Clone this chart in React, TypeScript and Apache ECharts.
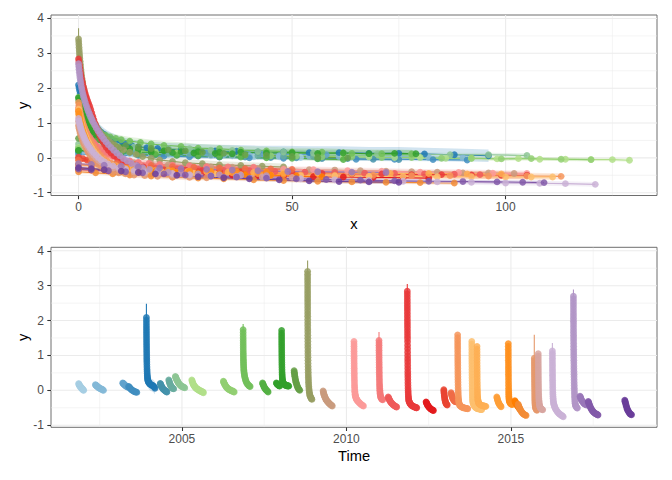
import { useEffect, useRef } from "react";
import * as echarts from "echarts";

type Pt = [number, number];

// ---- axis ticks ----
const xTicks = [0, 50, 100];
const xMinorTicks = [25, 75, 125];
const yTicks = [-1, 0, 1, 2, 3, 4];
const yMinorTicks = [-0.5, 0.5, 1.5, 2.5, 3.5];
const timeTicks = [2005, 2010, 2015];
const timeMinorTicks = [2002.5, 2007.5, 2012.5, 2017.5];

// ---- events: start (decimal year), fitted value at day 0 (needle), band half width ----
const eventStart = [
  2001.86, 2002.37, 2003.2, 2003.38, 2003.92, 2004.34, 2004.6, 2004.8, 2005.3, 2006.26,
  2006.86, 2007.45, 2007.87, 2008.03, 2008.41, 2008.82, 2009.29, 2010.23, 2010.99, 2011.27,
  2011.85, 2012.42, 2012.96, 2013.18, 2013.38, 2013.81, 2013.97, 2014.57, 2014.92, 2015.12,
  2015.22, 2015.71, 2015.83, 2016.26, 2016.9, 2017.1, 2017.35, 2018.46,
];
const fitTop: (number | null)[] = [
  null, null, null, null, 2.48, null, null, null, null, null,
  1.9, null, null, null, null, 3.72, null, null, 1.67, null,
  3.05, null, null, null, null, null, null, null, null, null,
  null, 1.59, null, 1.36, 2.89, null, null, null,
];
const bandHalf = [
  0.05, 0.05, 0.05, 0.05, 0.18, 0.05, 0.05, 0.06, 0.05, 0.05,
  0.12, 0.05, 0.05, 0.1, 0.06, 0.1, 0.06, 0.09, 0.09, 0.05,
  0.1, 0.05, 0.05, 0.05, 0.09, 0.08, 0.08, 0.05, 0.08, 0.05,
  0.05, 0.08, 0.08, 0.07, 0.1, 0.05, 0.05, 0.05,
];
const palette = [
  "#A6CEE3", "#84B9D7", "#62A3CC", "#418EC0", "#1F78B4", "#4492AA", "#68AC9F", "#8DC594", "#B2DF8A", "#92CF72",
  "#72BF5B", "#53B043", "#33A02C", "#33A02C", "#659F47", "#979D62", "#C99B7E", "#FB9A99", "#F57A7A", "#EF5A5A",
  "#E93A3B", "#E31A1C", "#E94431", "#F06C46", "#F6955A", "#FDBF6F", "#FEAF53", "#FE9F38", "#FF8F1C", "#FF7F00",
  "#F28C36", "#E5986B", "#D7A5A0", "#CAB2D6", "#B295C7", "#9A78B8", "#825AA9", "#6A3D9A",
];

// ---- observations per event: [days since start, y] ----
const ev00: Pt[] = [[0,0.19],[3,0.18],[6,0.15],[9,0.15],[13,0.12],[17,0.12],[21,0.09],[26,0.09],[31,0.06],[36,0.06],[41,0.03],[47,0.03],[52,0.01],[56,0.0]];
const ev01: Pt[] = [[0,0.16],[4,0.15],[8,0.14],[12,0.13],[17,0.12],[22,0.11],[28,0.09],[34,0.09],[40,0.07],[47,0.06],[54,0.05],[61,0.04],[68,0.03],[75,0.03],[82,0.01],[90,0.0]];
const ev02: Pt[] = [[0,0.21],[4,0.2],[8,0.19],[13,0.18],[18,0.16],[24,0.15],[30,0.14],[36,0.12],[43,0.11],[50,0.1],[58,0.09]];
const ev03: Pt[] = [[0,0.11],[4,0.1],[9,0.08],[14,0.07],[20,0.05],[26,0.03],[33,0.02],[40,0.0],[48,-0.01],[56,-0.02],[65,-0.04],[74,-0.04],[83,-0.05],[91,-0.06]];
const ev04: Pt[] = [[0,2.09],[0.12,2.01],[0.25,1.93],[0.4,1.85],[0.55,1.78],[0.72,1.71],[0.9,1.64],[1.1,1.57],[1.32,1.5],[1.56,1.43],[1.82,1.36],[2.1,1.29],[2.4,1.22],[2.72,1.15],[3.06,1.08],[3.42,1.01],[3.8,0.94],[4.2,0.88],[4.7,0.81],[5.3,0.74],[6,0.67],[6.8,0.6],[7.7,0.54],[8.7,0.48],[9.8,0.43],[11,0.39],[12.5,0.35],[14,0.32],[16,0.29],[18.5,0.27],[21,0.25],[24,0.23],[28,0.22],[32,0.2],[37,0.19],[42,0.17],[48,0.17],[54,0.15],[61,0.15],[68,0.13],[75,0.13],[81,0.11],[88,0.09],[96,0.06]];
const ev05: Pt[] = [[0,0.2],[3,0.18],[6,0.16],[10,0.13],[14,0.12],[18,0.09],[23,0.08],[28,0.05],[33,0.04],[39,0.02],[45,0.01],[51,0.0],[57,-0.02],[63,-0.02],[69,-0.04],[75,-0.05]];
const ev06: Pt[] = [[0,0.3],[3,0.27],[6,0.24],[9,0.22],[13,0.18],[17,0.16],[21,0.13],[26,0.12],[31,0.09],[36,0.08],[42,0.06],[48,0.05],[55,0.04]];
const ev07: Pt[] = [[0,0.4],[3,0.38],[6,0.36],[9,0.34],[13,0.31],[17,0.3],[21,0.27],[26,0.26],[31,0.22],[36,0.21],[42,0.18],[48,0.17],[55,0.14],[62,0.14],[70,0.11],[78,0.11],[87,0.09],[96,0.09],[105,0.07]];
const ev08: Pt[] = [[0,0.3],[3,0.27],[6,0.25],[10,0.21],[14,0.19],[18,0.16],[23,0.15],[28,0.12],[33,0.11],[38,0.08],[44,0.08],[50,0.05],[56,0.05],[62,0.03],[68,0.03],[74,0.01],[80,0.01],[86,-0.01],[92,-0.01],[98,-0.03],[103,-0.02],[108,-0.04],[114,-0.04],[120,-0.05],[125,-0.05],[129,-0.07]];
const ev09: Pt[] = [[0,0.26],[3,0.24],[6,0.22],[10,0.2],[14,0.17],[18,0.16],[23,0.13],[28,0.12],[33,0.09],[39,0.08],[45,0.06],[51,0.05],[57,0.03],[64,0.03],[71,0.01],[78,0.01],[85,-0.01],[92,-0.01],[99,-0.03],[106,-0.02],[113,-0.04],[120,-0.05]];
const ev10: Pt[] = [[0,1.74],[0.1,1.66],[0.2,1.58],[0.35,1.5],[0.5,1.43],[0.7,1.36],[0.9,1.29],[1.1,1.22],[1.4,1.15],[1.7,1.08],[2,1.02],[2.4,0.96],[2.8,0.9],[3.3,0.85],[3.9,0.8],[4.6,0.75],[5.4,0.7],[6.3,0.65],[7.4,0.6],[8.7,0.56],[10,0.52],[12,0.48],[14.5,0.44],[17,0.4],[20,0.36],[24,0.33],[28,0.28],[33,0.26],[38,0.22],[44,0.2],[50,0.17],[57,0.16],[64,0.13],[71,0.12],[78,0.11]];
const ev11: Pt[] = [[0,0.21],[3,0.19],[6,0.17],[10,0.15],[14,0.11],[18,0.1],[23,0.07],[28,0.06],[33,0.03],[38,0.02],[44,0.0],[50,-0.01],[56,-0.03],[62,-0.05]];
const ev12: Pt[] = [[0,0.21],[4,0.2],[8,0.18],[12,0.17],[17,0.16],[22,0.15],[27,0.14],[32,0.13],[36,0.12]];
const ev13: Pt[] = [[0,1.72],[0.1,1.64],[0.2,1.57],[0.3,1.5],[0.45,1.43],[0.6,1.36],[0.8,1.29],[1,1.22],[1.2,1.15],[1.45,1.08],[1.7,1.01],[2,0.94],[2.35,0.87],[2.7,0.8],[3.1,0.73],[3.6,0.66],[4.2,0.59],[4.9,0.52],[5.7,0.46],[6.6,0.41],[7.6,0.36],[8.8,0.32],[10,0.29],[12,0.26],[14,0.24],[17,0.21],[20,0.2],[24,0.18],[28,0.18],[33,0.16],[38,0.16],[44,0.14],[50,0.15],[56,0.13],[62,0.14],[68,0.12],[74,0.13],[79,0.12]];
const ev14: Pt[] = [[0,0.56],[2,0.52],[4,0.48],[6,0.44],[8,0.4],[11,0.35],[14,0.31],[17,0.27],[21,0.23],[25,0.2],[29,0.16],[34,0.13],[39,0.09],[44,0.07],[50,0.04],[56,0.02],[63,0.0]];
const ev15: Pt[] = [[0,3.41],[0.04,3.33],[0.08,3.25],[0.12,3.17],[0.16,3.09],[0.2,3.01],[0.25,2.93],[0.3,2.85],[0.36,2.77],[0.42,2.69],[0.48,2.61],[0.55,2.53],[0.62,2.45],[0.7,2.37],[0.8,2.28],[0.9,2.2],[1,2.12],[1.15,2.03],[1.3,1.94],[1.45,1.85],[1.6,1.76],[1.8,1.67],[2,1.58],[2.2,1.49],[2.45,1.4],[2.7,1.31],[3,1.22],[3.3,1.13],[3.6,1.04],[4,0.95],[4.4,0.86],[4.9,0.77],[5.4,0.68],[6,0.6],[6.7,0.52],[7.5,0.44],[8.4,0.37],[9.4,0.3],[10.5,0.23],[12,0.16],[13.5,0.1],[15,0.04],[17,-0.01],[19,-0.06],[22,-0.1],[25,-0.14],[29,-0.17],[33,-0.2],[38,-0.22],[43,-0.24],[48,-0.26]];
const ev16: Pt[] = [[0,-0.02],[3,-0.05],[6,-0.08],[9,-0.11],[13,-0.14],[17,-0.17],[21,-0.2],[26,-0.22],[31,-0.26],[36,-0.27],[42,-0.3],[48,-0.31],[54,-0.34],[60,-0.35],[66,-0.37],[72,-0.38],[78,-0.4],[84,-0.41],[90,-0.43],[96,-0.43],[102,-0.45]];
const ev17: Pt[] = [[0,1.4],[0.1,1.33],[0.2,1.26],[0.35,1.19],[0.5,1.12],[0.7,1.05],[0.9,0.98],[1.1,0.91],[1.35,0.84],[1.6,0.77],[1.9,0.7],[2.2,0.63],[2.6,0.56],[3,0.49],[3.5,0.42],[4,0.35],[4.6,0.28],[5.3,0.21],[6.1,0.14],[7,0.08],[8,0.02],[9.2,-0.03],[10.5,-0.07],[12,-0.11],[14,-0.14],[16.5,-0.17],[19,-0.2],[22,-0.22],[26,-0.25],[30,-0.26],[35,-0.29],[41,-0.3],[48,-0.33],[55,-0.34],[63,-0.37],[71,-0.38],[80,-0.41],[89,-0.42],[97,-0.44],[105,-0.45]];
const ev18: Pt[] = [[0,1.43],[0.1,1.36],[0.2,1.29],[0.35,1.22],[0.5,1.15],[0.7,1.08],[0.9,1.01],[1.1,0.94],[1.35,0.87],[1.6,0.8],[1.9,0.73],[2.2,0.66],[2.6,0.59],[3,0.52],[3.5,0.45],[4,0.38],[4.6,0.31],[5.3,0.24],[6.1,0.17],[7,0.11],[8,0.05],[9.2,0],[10.5,-0.05],[12,-0.09],[14,-0.13],[16.5,-0.16],[19,-0.19],[22,-0.21],[26,-0.23],[30,-0.25],[35,-0.26],[41,-0.27]];
const ev19: Pt[] = [[0,-0.19],[3,-0.21],[6,-0.24],[10,-0.25],[14,-0.28],[18,-0.29],[23,-0.32],[28,-0.33],[34,-0.36],[40,-0.37],[46,-0.39],[53,-0.41],[60,-0.42],[67,-0.44],[74,-0.45],[81,-0.46],[88,-0.47],[94,-0.48]];
const ev20: Pt[] = [[0,2.84],[0.08,2.76],[0.16,2.68],[0.25,2.6],[0.35,2.52],[0.45,2.44],[0.56,2.36],[0.68,2.28],[0.82,2.2],[0.97,2.12],[1.13,2.04],[1.3,1.96],[1.48,1.88],[1.68,1.8],[1.9,1.72],[2.12,1.64],[2.36,1.56],[2.6,1.48],[2.85,1.39],[3.1,1.29],[3.35,1.19],[3.6,1.09],[3.85,0.99],[4.1,0.9],[4.4,0.81],[4.7,0.72],[5,0.63],[5.35,0.54],[5.7,0.46],[6.1,0.38],[6.5,0.3],[7,0.22],[7.6,0.14],[8.3,0.06],[9.1,-0.01],[10,-0.07],[11,-0.13],[12.2,-0.18],[13.6,-0.22],[15.2,-0.26],[17,-0.29],[19,-0.31],[22,-0.33],[25,-0.35],[29,-0.37],[33,-0.39],[38,-0.4],[44,-0.43],[50,-0.43],[57,-0.45],[64,-0.46],[71,-0.46],[78,-0.48],[85,-0.48],[92,-0.49],[99,-0.5],[105,-0.5]];
const ev21: Pt[] = [[0,-0.33],[3,-0.35],[7,-0.37],[11,-0.4],[15,-0.41],[20,-0.44],[25,-0.45],[30,-0.48],[36,-0.49],[42,-0.51],[48,-0.52],[55,-0.54],[62,-0.55],[69,-0.56],[76,-0.57],[82,-0.58]];
const ev22: Pt[] = [[0,0.02],[1,-0.02],[2,-0.06],[3.5,-0.1],[5,-0.14],[7,-0.18],[9,-0.22],[11.5,-0.26],[14,-0.29],[17,-0.32],[20,-0.35],[24,-0.37],[28,-0.39],[33,-0.41],[38,-0.42]];
const ev23: Pt[] = [[0,-0.07],[3,-0.1],[6,-0.13],[9,-0.16],[13,-0.19],[17,-0.22],[22,-0.25],[27,-0.27],[33,-0.29],[39,-0.31],[45,-0.32],[50,-0.33]];
const ev24: Pt[] = [[0,1.59],[0.1,1.51],[0.2,1.43],[0.32,1.35],[0.45,1.27],[0.6,1.19],[0.76,1.11],[0.94,1.03],[1.14,0.95],[1.36,0.87],[1.6,0.79],[1.86,0.71],[2.15,0.63],[2.47,0.55],[2.82,0.47],[3.2,0.39],[3.62,0.31],[4.08,0.23],[4.6,0.15],[5.2,0.07],[5.9,-0.01],[6.7,-0.08],[7.6,-0.15],[8.7,-0.21],[10,-0.26],[11.5,-0.3],[13.5,-0.34],[16,-0.37],[19,-0.4],[22.5,-0.42],[26,-0.44],[31,-0.45],[37,-0.46],[44,-0.48],[52,-0.48],[60,-0.5],[69,-0.5],[78,-0.51],[87,-0.51],[96,-0.52],[105,-0.52],[113,-0.53]];
const ev25: Pt[] = [[0,1.4],[0.1,1.32],[0.2,1.24],[0.33,1.16],[0.47,1.08],[0.63,1],[0.81,0.92],[1.01,0.84],[1.23,0.76],[1.47,0.68],[1.74,0.6],[2.03,0.52],[2.36,0.44],[2.72,0.36],[3.12,0.28],[3.56,0.2],[4.05,0.12],[4.6,0.04],[5.2,-0.03],[5.9,-0.1],[6.7,-0.16],[7.7,-0.21],[8.9,-0.26],[10.3,-0.3],[12,-0.33],[14,-0.36],[16.5,-0.38],[19.5,-0.4],[23,-0.42],[27,-0.44],[32,-0.46],[38,-0.48],[45,-0.5],[52,-0.51],[60,-0.52],[68,-0.53],[76,-0.53],[84,-0.54],[92,-0.54],[100,-0.55],[106,-0.55],[111,-0.55]];
const ev26: Pt[] = [[0,1.26],[0.1,1.18],[0.21,1.1],[0.34,1.02],[0.49,0.94],[0.66,0.86],[0.85,0.78],[1.07,0.7],[1.31,0.62],[1.58,0.54],[1.88,0.46],[2.21,0.38],[2.58,0.3],[2.99,0.22],[3.45,0.14],[3.96,0.06],[4.53,-0.01],[5.17,-0.07],[5.9,-0.13],[6.8,-0.18],[7.9,-0.22],[9.2,-0.26],[10.8,-0.29],[12.7,-0.32],[15,-0.34],[18,-0.36],[21.5,-0.38],[25.5,-0.39],[30,-0.4],[35,-0.41],[41,-0.42],[48,-0.43],[56,-0.44],[64,-0.44],[73,-0.45],[82,-0.45],[91,-0.46],[99,-0.46]];
const ev27: Pt[] = [[0,-0.19],[3,-0.22],[6,-0.25],[9,-0.28],[13,-0.31],[17,-0.34],[21,-0.36],[26,-0.39],[31,-0.41],[36,-0.43],[42,-0.45],[48,-0.47]];
const ev28: Pt[] = [[0,1.34],[0.1,1.26],[0.2,1.18],[0.32,1.1],[0.46,1.02],[0.61,0.94],[0.78,0.86],[0.97,0.78],[1.18,0.7],[1.41,0.62],[1.67,0.54],[1.95,0.46],[2.26,0.38],[2.6,0.3],[2.98,0.22],[3.4,0.14],[3.86,0.06],[4.37,-0.01],[4.94,-0.07],[5.6,-0.12],[6.4,-0.17],[7.3,-0.21],[8.4,-0.24],[9.7,-0.27],[11.3,-0.29],[13.2,-0.31],[15.5,-0.33],[18.5,-0.35],[22,-0.37],[26,-0.38],[31,-0.39],[37,-0.4],[44,-0.41]];
const ev29: Pt[] = [[0,-0.3],[3,-0.32],[6,-0.34],[10,-0.36],[14,-0.38],[18,-0.4],[23,-0.42],[28,-0.44],[33,-0.46],[39,-0.48],[45,-0.5],[51,-0.52],[57,-0.54]];
const ev30: Pt[] = [[0,-0.4],[4,-0.43],[8,-0.46],[12,-0.49],[17,-0.52],[22,-0.55],[28,-0.58],[34,-0.6],[41,-0.63],[48,-0.65],[56,-0.67],[64,-0.69],[72,-0.7],[80,-0.71],[88,-0.72]];
const ev31: Pt[] = [[0,0.92],[0.12,0.85],[0.25,0.78],[0.4,0.71],[0.56,0.64],[0.74,0.57],[0.94,0.5],[1.16,0.43],[1.4,0.36],[1.67,0.29],[1.97,0.22],[2.3,0.15],[2.67,0.08],[3.08,0.01],[3.54,-0.06],[4.06,-0.13],[4.65,-0.19],[5.33,-0.25],[6.1,-0.3],[7,-0.35],[8.1,-0.39],[9.4,-0.43],[11,-0.46],[13,-0.49],[15.5,-0.51],[18.5,-0.53],[22,-0.55],[26,-0.56],[30,-0.57]];
const ev32: Pt[] = [[0,1.05],[0.12,0.98],[0.25,0.91],[0.4,0.84],[0.56,0.77],[0.74,0.7],[0.94,0.63],[1.16,0.56],[1.4,0.49],[1.67,0.42],[1.97,0.35],[2.3,0.28],[2.67,0.21],[3.08,0.14],[3.54,0.07],[4.06,0],[4.65,-0.07],[5.33,-0.13],[6.1,-0.19],[7,-0.24],[8.1,-0.29],[9.4,-0.33],[11,-0.37],[13,-0.41],[15.5,-0.44],[18.5,-0.47],[22,-0.49],[26,-0.51],[31,-0.53],[37,-0.54],[43,-0.55],[50,-0.56]];
const ev33: Pt[] = [[0,1.13],[0.12,1.06],[0.25,0.99],[0.4,0.92],[0.56,0.85],[0.74,0.78],[0.94,0.71],[1.16,0.64],[1.4,0.57],[1.67,0.5],[1.97,0.43],[2.3,0.36],[2.67,0.29],[3.08,0.22],[3.54,0.15],[4.06,0.08],[4.65,0.01],[5.33,-0.06],[6.1,-0.12],[7,-0.18],[8.1,-0.23],[9.4,-0.28],[11,-0.32],[13,-0.36],[15.5,-0.39],[18.5,-0.42],[22,-0.45],[26,-0.48],[31,-0.51],[37,-0.54],[44,-0.57],[52,-0.6],[60,-0.63],[68,-0.65],[76,-0.67],[84,-0.69],[92,-0.7],[100,-0.72],[108,-0.73],[114,-0.74],[121,-0.76]];
const ev34: Pt[] = [[0,2.7],[0.06,2.62],[0.12,2.54],[0.19,2.46],[0.26,2.38],[0.34,2.3],[0.43,2.22],[0.53,2.14],[0.64,2.06],[0.76,1.98],[0.9,1.9],[1.05,1.82],[1.22,1.74],[1.4,1.66],[1.6,1.58],[1.82,1.5],[2.05,1.42],[2.3,1.34],[2.56,1.26],[2.84,1.18],[3.14,1.1],[3.46,1.02],[3.8,0.94],[4.16,0.86],[4.55,0.78],[4.97,0.7],[5.42,0.62],[5.9,0.54],[6.42,0.46],[6.98,0.38],[7.6,0.3],[8.25,0.22],[8.95,0.14],[9.7,0.06],[10.5,-0.02],[11.4,-0.09],[12.4,-0.16],[13.6,-0.22],[15,-0.28],[16.6,-0.33],[18.5,-0.37],[21,-0.41],[24,-0.44],[28,-0.46],[33,-0.48],[38,-0.5],[44,-0.51]];
const ev35: Pt[] = [[0,-0.17],[3,-0.19],[6,-0.21],[10,-0.24],[14,-0.26],[19,-0.29],[24,-0.31],[30,-0.33],[36,-0.35],[42,-0.37],[49,-0.39],[56,-0.4],[64,-0.41],[72,-0.42]];
const ev36: Pt[] = [[0,-0.32],[3,-0.34],[7,-0.37],[11,-0.4],[15,-0.43],[20,-0.46],[25,-0.49],[31,-0.52],[37,-0.55],[44,-0.58],[51,-0.6],[58,-0.62],[66,-0.64],[74,-0.66],[82,-0.67],[90,-0.68],[98,-0.69],[104,-0.7],[109,-0.71]];
const ev37: Pt[] = [[0,-0.28],[3,-0.31],[6,-0.34],[10,-0.38],[14,-0.42],[18,-0.46],[23,-0.5],[28,-0.54],[34,-0.57],[40,-0.6],[47,-0.63],[54,-0.66],[61,-0.68],[68,-0.69],[75,-0.7]];

const events: Pt[][] = [
  ev00, ev01, ev02, ev03, ev04, ev05, ev06, ev07, ev08, ev09,
  ev10, ev11, ev12, ev13, ev14, ev15, ev16, ev17, ev18, ev19,
  ev20, ev21, ev22, ev23, ev24, ev25, ev26, ev27, ev28, ev29,
  ev30, ev31, ev32, ev33, ev34, ev35, ev36, ev37,
];

const FONT = '"Liberation Sans", Arial, Helvetica, sans-serif';

const limits = [
  { xmin: -6.45, xmax: 135.45, ymin: -1.08, ymax: 4.1 },
  { xmin: 2001.02, xmax: 2019.44, ymin: -1.06, ymax: 4.1 },
];

const panelX = (panel: number, i: number, d: number) =>
  panel === 0 ? d : eventStart[i] + d / 365.25;

const fitPoints = (i: number): Pt[] => {
  const top = fitTop[i];
  return top != null ? [[0, top] as Pt, ...events[i]] : events[i];
};

function gridLineSeries(panel: number, xMaj: number[], xMin: number[]) {
  const lim = limits[panel];
  const data = [
    ...xMin.map((v) => [v, 0, 0]),
    ...yMinorTicks.map((v) => [v, 1, 0]),
    ...xMaj.map((v) => [v, 0, 1]),
    ...yTicks.map((v) => [v, 1, 1]),
  ];
  return {
    type: "custom",
    xAxisIndex: panel,
    yAxisIndex: panel,
    z: 1,
    silent: true,
    clip: true,
    data,
    renderItem: (_p: any, api: any) => {
      const v = api.value(0);
      const vertical = api.value(1) === 0;
      const major = api.value(2) === 1;
      const a = vertical ? api.coord([v, lim.ymin]) : api.coord([lim.xmin, v]);
      const b = vertical ? api.coord([v, lim.ymax]) : api.coord([lim.xmax, v]);
      return {
        type: "line",
        shape: { x1: a[0], y1: a[1], x2: b[0], y2: b[1] },
        style: { stroke: "#EBEBEB", lineWidth: major ? 1.07 : 0.53 },
      };
    },
  };
}

function ribbonSeries(panel: number) {
  return {
    type: "custom",
    xAxisIndex: panel,
    yAxisIndex: panel,
    z: 2,
    silent: true,
    clip: true,
    data: events.map((_, i) => [i, 0]),
    renderItem: (p: any, api: any) => {
      const i = p.dataIndex;
      const pts = fitPoints(i);
      const w = bandHalf[i];
      const upper = pts.map(([d, y]) => api.coord([panelX(panel, i, d), y + w]));
      const lower = pts.map(([d, y]) => api.coord([panelX(panel, i, d), y - w])).reverse();
      return {
        type: "polygon",
        shape: { points: upper.concat(lower) },
        style: { fill: palette[i], opacity: 0.2, stroke: null, lineWidth: 0 },
      };
    },
  };
}

function fitLineSeries(panel: number) {
  return {
    type: "custom",
    xAxisIndex: panel,
    yAxisIndex: panel,
    z: 3,
    silent: true,
    clip: true,
    data: events.map((_, i) => [i, 0]),
    renderItem: (p: any, api: any) => {
      const i = p.dataIndex;
      const pts = fitPoints(i).map(([d, y]) => api.coord([panelX(panel, i, d), y]));
      return {
        type: "polyline",
        shape: { points: pts },
        style: { stroke: palette[i], lineWidth: 1.1, fill: null },
      };
    },
  };
}

function pointSeries(panel: number) {
  const data: number[][] = [];
  events.forEach((pts, i) => pts.forEach(([d, y]) => data.push([panelX(panel, i, d), y, i])));
  return {
    type: "scatter",
    xAxisIndex: panel,
    yAxisIndex: panel,
    z: 4,
    silent: true,
    large: false,
    symbolSize: 6.8,
    data,
    itemStyle: { color: (p: any) => palette[p.data[2]], opacity: 0.85 },
  };
}

const tickLabelStyle = { color: "#4D4D4D", fontSize: 12, fontFamily: FONT };
const nameStyle = { color: "#000000", fontSize: 14.7, fontFamily: FONT };

function makeXAxis(panel: number, name: string, ticks: number[]) {
  const lim = limits[panel];
  return {
    type: "value",
    gridIndex: panel,
    min: lim.xmin,
    max: lim.xmax,
    name,
    nameLocation: "middle",
    nameGap: 21,
    nameMoveOverlap: false,
    nameTextStyle: nameStyle,
    axisLine: { show: false, onZero: false },
    splitLine: { show: false },
    axisPointer: { show: false },
    axisTick: { show: true, length: 3.7, customValues: ticks, lineStyle: { color: "#333333", width: 1.07 } },
    axisLabel: { show: true, customValues: ticks, margin: 5.5, formatter: (v: number) => String(v), ...tickLabelStyle },
  };
}

function makeYAxis(panel: number) {
  const lim = limits[panel];
  return {
    type: "value",
    gridIndex: panel,
    min: lim.ymin,
    max: lim.ymax,
    name: "y",
    nameLocation: "middle",
    nameGap: 21,
    nameMoveOverlap: false,
    nameRotate: 90,
    nameTextStyle: nameStyle,
    axisLine: { show: false, onZero: false },
    splitLine: { show: false },
    axisPointer: { show: false },
    axisTick: { show: true, length: 3.7, customValues: yTicks, lineStyle: { color: "#333333", width: 1.07 } },
    axisLabel: { show: true, customValues: yTicks, margin: 7, formatter: (v: number) => String(v), ...tickLabelStyle },
  };
}

function buildOption() {
  const gridBase = { show: true, backgroundColor: "#FFFFFF", borderColor: "#6E6E6E", borderWidth: 1, containLabel: false, outerBoundsMode: "none" };
  return {
    animation: false,
    backgroundColor: "#FFFFFF",
    grid: [
      { ...gridBase, left: 51, top: 15, width: 606, height: 180.5 },
      { ...gridBase, left: 51, top: 247.3, width: 606, height: 180 },
    ],
    xAxis: [makeXAxis(0, "x", xTicks), makeXAxis(1, "Time", timeTicks)],
    yAxis: [makeYAxis(0), makeYAxis(1)],
    series: [
      gridLineSeries(0, xTicks, xMinorTicks),
      gridLineSeries(1, timeTicks, timeMinorTicks),
      ribbonSeries(0),
      ribbonSeries(1),
      fitLineSeries(0),
      fitLineSeries(1),
      pointSeries(0),
      pointSeries(1),
    ],
  };
}

export default function App() {
  const ref = useRef<HTMLDivElement>(null);
  useEffect(() => {
    if (!ref.current) return;
    const chart = echarts.init(ref.current, null, { renderer: "svg" });
    chart.setOption(buildOption() as any);
    return () => chart.dispose();
  }, []);
  return (
    <div
      ref={ref}
      style={{ position: "absolute", left: 0, top: 0, width: 672, height: 480, background: "#FFFFFF" }}
    />
  );
}
